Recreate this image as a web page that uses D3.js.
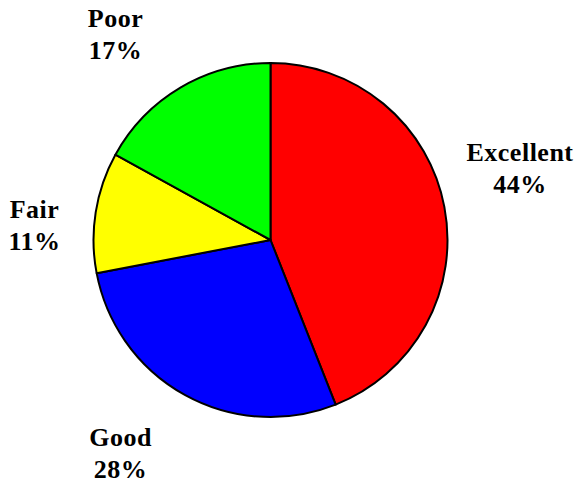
<!DOCTYPE html>
<html><head><meta charset="utf-8">
<script src="https://cdn.jsdelivr.net/npm/d3@7"></script>
<style>html,body{margin:0;padding:0;background:#fff;}svg{display:block;}
.lbl{font-family:"Liberation Serif","Times New Roman",Times,serif;font-weight:700;font-size:26px;fill:#000;}
</style>
</head><body>
<svg id="chart" width="577" height="483"></svg>
<script>
const categories = ["Excellent", "Good", "Fair", "Poor"];
const values = [44, 28, 11, 17];
const colors = ["#ff0000", "#0000ff", "#ffff00", "#00ff00"];
const labelText = ["Excellent", "Good", "Fair", "Poor"];
const pctLabels = ["44%", "28%", "11%", "17%"];

const svg = d3.select("#chart");
const cx = 270.5, cy = 240, r = 177;
const data = categories.map((c, i) => ({cat: c, value: values[i], color: colors[i], label: labelText[i], pct: pctLabels[i]}));
const pie = d3.pie().value(d => d.value).sort(null);
const arc = d3.arc().innerRadius(0).outerRadius(r);
const g = svg.append("g").attr("transform", `translate(${cx},${cy})`);
const arcs = pie(data);
g.selectAll("path").data(arcs).join("path")
  .attr("d", arc).attr("fill", d => d.data.color)
  .attr("stroke", "#000").attr("stroke-width", 2).attr("stroke-linejoin", "round");

const labelPos = [[520, 161], [120.5, 446], [34.5, 218], [115.5, 27]];
const lg = svg.append("g");
arcs.forEach((a, i) => {
  const t = lg.append("text").attr("class", "lbl")
    .attr("x", labelPos[i][0]).attr("y", labelPos[i][1])
    .attr("text-anchor", "middle")
    .style("letter-spacing", "0.5px");
  t.append("tspan").attr("x", labelPos[i][0]).text(a.data.label);
  t.append("tspan").attr("x", labelPos[i][0]).attr("dy", 32).text(a.data.pct);
});
</script>
</body></html>
